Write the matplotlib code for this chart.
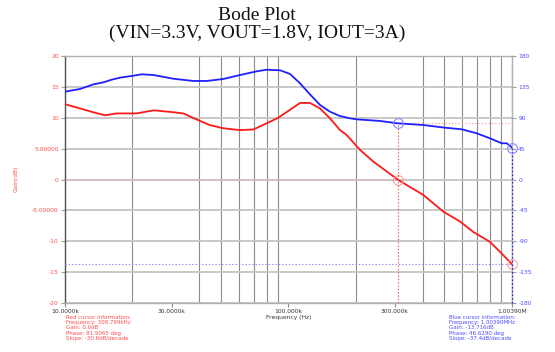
import matplotlib
matplotlib.use("Agg")
import matplotlib.pyplot as plt
from matplotlib.ticker import LogLocator, NullFormatter
import numpy as np

# Loop gain magnitude (kHz, dB)
gain_freq_khz = [10.0, 11.7, 13.35, 15.1, 17.0, 20.9, 24.9, 30.5, 33.9, 36.3, 40.2,
                 44.6, 51.2, 60.8, 69.7, 80.0, 90.2, 101.8, 113.0, 125.0, 138.7,
                 153.7, 170.4, 182.6, 209.4, 240.3, 308.799, 338.9, 402.4, 494.4,
                 587.4, 673.8, 800.0, 903.0, 1003.9]
gain_db = [12.2, 11.5, 10.9, 10.4, 10.7, 10.7, 11.2, 10.9, 10.7, 10.2, 9.5,
           8.8, 8.3, 8.0, 8.1, 9.1, 10.0, 11.3, 12.4, 12.4, 11.5,
           9.9, 8.0, 7.2, 4.8, 2.9, 0.0, -0.9, -2.5, -5.2,
           -6.8, -8.5, -10.1, -12.0, -13.716]

# Loop phase (kHz, deg)
phase_freq_khz = [10.0, 11.67, 13.4, 14.84, 16.2, 17.6, 19.9, 22.1, 24.9, 30.5,
                  37.6, 43.1, 51.2, 60.8, 72.2, 80.0, 91.8, 101.8, 112.8, 125.1,
                  138.7, 153.7, 170.4, 189.0, 202.5, 257.5, 308.799, 402.4, 503.2,
                  597.7, 698.0, 800.0, 903.0, 951.0, 1003.9]
phase_deg = [128.0, 131.9, 138.7, 141.6, 145.5, 148.4, 150.9, 153.3, 152.3, 146.9,
             143.6, 143.6, 146.5, 152.3, 157.7, 160.0, 159.2, 153.8, 140.2, 124.0,
             108.6, 98.8, 92.5, 89.2, 87.7, 85.3, 81.9065, 79.4, 75.5,
             73.2, 67.3, 60.0, 52.8, 52.8, 46.629]

# Cursor readouts
red_cursor = dict(freq_khz=308.799, gain=0.0, phase=81.9065, slope=-30.6)
blue_cursor = dict(freq_khz=1003.90, gain=-13.716, phase=46.6290, slope=-37.4)

gain_ticks = [20, 15, 10, 5, 0, -5, -10, -15, -20]
gain_tick_labels = ["20", "15", "10", "5.00000", "0", "-5.00000", "-10", "-15", "-20"]
phase_ticks = [180, 135, 90, 45, 0, -45, -90, -135, -180]
freq_ticks_khz = [10.0, 30.0, 100.0, 300.0, 1003.9]
freq_tick_labels = ["10.0000k", "30.0000k", "100.000k", "300.000k", "1.00390M"]

RED = "#ff1a1a"
BLUE = "#2020ff"
RED_TXT = "#ff4d4d"
BLUE_TXT = "#4d4dff"
CUR_RED = "#ffa0a0"
CUR_BLUE = "#8a8aff"

fig = plt.figure(figsize=(5.55, 3.52), dpi=100)
ax = fig.add_axes([65 / 555, 1 - 303 / 352, 447 / 555, 247 / 352])
ax2 = ax.twinx()

gf = np.array(gain_freq_khz) * 1e3
pf = np.array(phase_freq_khz) * 1e3
xmin, xmax = 10e3, 1003.9e3

ax.set_xscale("log")
ax.set_xlim(xmin, xmax)
ax.set_ylim(-20, 20)
ax2.set_ylim(-180, 180)

# grid
ax.xaxis.set_minor_locator(LogLocator(base=10, subs=np.arange(1, 10)))
ax.xaxis.set_minor_formatter(NullFormatter())
ax.grid(False)
ax.grid(True, which="minor", axis="x", color="#8c8c8c", lw=0.8)
ax.set_yticks(gain_ticks)
ax.set_yticklabels(gain_tick_labels)
ax.grid(True, which="major", axis="y", color="#c4c4c4", lw=1.3)
ax.set_xticks([f * 1e3 for f in freq_ticks_khz])
ax.set_xticklabels(freq_tick_labels)
ax.tick_params(axis="x", which="minor", length=0)
ax.tick_params(axis="x", which="major", length=3, width=0.8, color="#8c8c8c",
               labelsize=4.3, labelcolor="#333333", pad=1.5)
ax.tick_params(axis="y", length=3, width=0.8, color="#a0a0a0",
               labelsize=4.3, labelcolor=RED_TXT, pad=1.5)
ax2.set_yticks(phase_ticks)
ax2.set_yticklabels([str(t) for t in phase_ticks])
ax2.tick_params(axis="y", length=3, width=0.8, color="#a0a0a0",
                labelsize=4.3, labelcolor=BLUE_TXT, pad=1.5)

for name, sp in ax.spines.items():
    sp.set_color("#b0b0b0")
    sp.set_linewidth(1.0)
ax.spines["left"].set_color("#505050")
for sp in ax2.spines.values():
    sp.set_visible(False)

ax.set_xlabel("Frequency (Hz)", fontsize=4.3, color="#333333", labelpad=0.5)
fig.text(16 / 555, 1 - 179 / 352, "Gain(dB)", rotation=90, ha="center", va="center",
         fontsize=4.3, color=RED_TXT)

# curves
ax.plot(gf, gain_db, color=RED, lw=1.3, zorder=5)
ax2.plot(pf, phase_deg, color=BLUE, lw=1.3, zorder=5)

dot = (0, (1.2, 1.8))
rf = red_cursor["freq_khz"] * 1e3
bf = blue_cursor["freq_khz"] * 1e3
# red cursor
ax.plot([xmin, rf], [red_cursor["gain"]] * 2, color=CUR_RED, lw=0.8, ls=dot, zorder=4)
ax2.plot([rf, xmax], [red_cursor["phase"]] * 2, color=CUR_RED, lw=0.8, ls=dot, zorder=4)
ax2.plot([rf, rf], [-180, red_cursor["phase"]], color="#e05050", lw=0.8, ls=dot, zorder=4)
ax.plot([rf], [red_cursor["gain"]], marker="o", ms=7, mfc="none", mec=CUR_RED, mew=0.8, zorder=6)
ax2.plot([rf], [red_cursor["phase"]], marker="o", ms=7, mfc="none", mec=CUR_BLUE, mew=0.8, zorder=6)
# blue cursor
ax.plot([xmin, xmax], [blue_cursor["gain"]] * 2, color=CUR_BLUE, lw=0.8, ls=dot, zorder=4)
ax2.plot([bf, bf], [-180, blue_cursor["phase"]], color=BLUE, lw=0.9, ls=dot, zorder=4,
         clip_on=False)
ax.plot([bf], [blue_cursor["gain"]], marker="o", ms=7, mfc="none", mec=CUR_RED, mew=0.8,
        zorder=6, clip_on=False)
ax2.plot([bf], [blue_cursor["phase"]], marker="o", ms=7, mfc="none", mec=CUR_BLUE, mew=0.8,
         zorder=6, clip_on=False)

# title
fig.text(257 / 555, 1 - 7 / 352, "Bode Plot\n(VIN=3.3V, VOUT=1.8V, IOUT=3A)",
         ha="center", va="top", fontsize=14.0, family="Liberation Serif",
         linespacing=1.05, color="#111111")

# cursor readouts
red_txt = ("Red cursor information:\n"
           f"Frequency: {red_cursor['freq_khz']:.3f}kHz\n"
           f"Gain: {red_cursor['gain']:.1f}dB\n"
           f"Phase: {red_cursor['phase']:.4f} deg\n"
           f"Slope: {red_cursor['slope']:.1f}dB/decade")
blue_txt = ("Blue cursor information:\n"
            f"Frequency: {blue_cursor['freq_khz'] / 1000:.5f}MHz\n"
            f"Gain: {blue_cursor['gain']:.3f}dB\n"
            f"Phase: {blue_cursor['phase']:.4f} deg\n"
            f"Slope: {blue_cursor['slope']:.1f}dB/decade")
fig.text(66 / 555, 1 - 315 / 352, red_txt, ha="left", va="top", fontsize=4.0,
         color=RED_TXT, linespacing=1.05)
fig.text(449 / 555, 1 - 315 / 352, blue_txt, ha="left", va="top", fontsize=4.0,
         color=BLUE_TXT, linespacing=1.05)

fig.savefig("out.png", dpi=100)
